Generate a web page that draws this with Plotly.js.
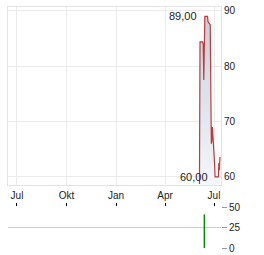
<!DOCTYPE html>
<html><head><meta charset="utf-8">
<script src="https://cdn.plot.ly/plotly-3.0.1.min.js"></script>
<style>html,body{margin:0;padding:0;background:#fff}#c{width:264px;height:255px}</style>
</head><body><div id="c"></div>
<script>
const dates = ['2024-06-04','2024-06-05','2024-06-07','2024-06-10','2024-06-11','2024-06-12','2024-06-13','2024-06-14','2024-06-17','2024-06-18','2024-06-19','2024-06-20','2024-06-21','2024-06-24','2024-06-26','2024-06-27','2024-06-28','2024-07-01','2024-07-02','2024-07-03','2024-07-04','2024-07-05','2024-07-08','2024-07-09','2024-07-10','2024-07-11','2024-07-12'];
const prices = [58.7,84.4,84.4,84.4,84.0,77.5,83.0,89.0,89.0,89.0,89.0,88.0,87.8,87.5,66.0,66.5,69.0,65.0,62.5,60.0,60.0,60.0,60.0,60.0,62.5,61.2,63.6];
const volDates = ['2024-06-13'];
const volumes = [41];
const tickDates = ['2023-07-01','2023-10-01','2024-01-01','2024-04-01','2024-07-01'];
const tickLabels = ['Jul','Okt','Jan','Apr','Jul'];
const priceTicks = [60,70,80,90];
const volTicks = [0,25,50];
const maxLabel = {date:'2024-06-14', value:89.0, text:'89,00'};
const minLabel = {date:'2024-07-03', value:60.0, text:'60,00'};

const font = {family:'"Liberation Sans", Arial, sans-serif', size:10, color:'#222'};
const xr = ['2023-06-14 08:00','2024-07-14'];

const traces = [
  {x:dates, y:prices, type:'scatter', mode:'lines', xaxis:'x', yaxis:'y',
   line:{color:'#c0393b', width:1.2}, fill:'tozeroy',
   fillgradient:{type:'vertical', start:58.5, stop:90, colorscale:[[0,'rgba(244,247,250,1)'],[1,'rgba(196,207,219,1)']]},
   hoverinfo:'skip'},
  {x:volDates, y:volumes, type:'bar', xaxis:'x2', yaxis:'y2', width:2.6*86400000,
   marker:{color:'#008a00', line:{width:0}}, hoverinfo:'skip'}
];

const layout = {
  width:264, height:255, showlegend:false, font:font,
  paper_bgcolor:'#fff', plot_bgcolor:'#fff',
  margin:{l:8, r:43, t:7, b:7},
  xaxis:{type:'date', range:xr, domain:[0,1], anchor:'y', tickvals:tickDates, ticktext:tickLabels,
    showticklabels:false, ticks:'', showgrid:true, gridcolor:'#ebebeb', gridwidth:1,
    showline:true, linecolor:'#e3e3e3', linewidth:1, mirror:true, zeroline:false},
  yaxis:{domain:[0.262,1], range:[58.55,90.7], side:'right', tickvals:priceTicks, ticktext:priceTicks.map(String),
    showgrid:true, gridcolor:'#ebebeb', ticks:'', showline:true, linecolor:'#e3e3e3', mirror:true, zeroline:false,
    tickfont:font},
  xaxis2:{type:'date', range:xr, domain:[0,1], anchor:'y2', side:'top', tickvals:tickDates, ticktext:tickLabels,
    showticklabels:true, ticks:'outside', ticklen:3, tickcolor:'#000', tickwidth:1, showgrid:false, showline:false,
    zeroline:false, tickfont:font},
  yaxis2:{domain:[0,0.17], range:[0,50], side:'right', tickvals:volTicks, ticktext:volTicks.map(String),
    showgrid:true, gridcolor:'#cccccc', ticks:'outside', ticklen:5, tickcolor:'#999', zeroline:false,
    showline:false, tickfont:font},
  annotations:[
    {x:maxLabel.date, y:maxLabel.value, xref:'x', yref:'y', text:maxLabel.text, showarrow:false,
     xanchor:'right', yanchor:'middle', xshift:-6, font:{family:font.family, size:11, color:'#222'}},
    {x:minLabel.date, y:minLabel.value, xref:'x', yref:'y', text:minLabel.text, showarrow:false,
     xanchor:'right', yanchor:'middle', xshift:-5, font:{family:font.family, size:11, color:'#222'}}
  ]
};
Plotly.newPlot('c', traces, layout, {staticPlot:true, displayModeBar:false});
</script></body></html>
